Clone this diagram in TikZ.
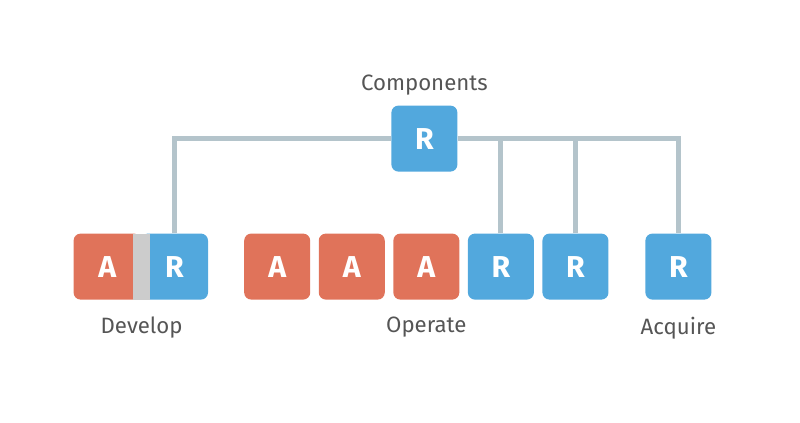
\documentclass[tikz,border=0pt]{standalone}
\usepackage{fontspec}
\setmainfont{Fira Sans}
\usepackage{tikz}
\usetikzlibrary{positioning}
\definecolor{appred}{HTML}{E0735A}
\definecolor{resblue}{HTML}{52A8DD}
\definecolor{linkgray}{HTML}{B4C4CB}
\definecolor{labelgray}{HTML}{555555}
\definecolor{gapgray}{HTML}{CCCCCC}
\tikzset{
    tile/.style={
           rectangle,
           rounded corners=5pt,
           draw=none,
           minimum width=1.65cm,
           minimum height=1.65cm,
           inner sep=0pt,
           text=white,
           font=\fontsize{21.5}{24}\selectfont\bfseries,
           text centered,
           },
    app/.style={tile, fill=appred},
    res/.style={tile, fill=resblue},
    caption/.style={text=labelgray, font=\fontsize{15.8}{18}\selectfont},
    link/.style={draw=linkgray, line width=3.5pt},
}

\begin{document}
\begin{tikzpicture}[node distance=0.2cm]
  \useasboundingbox (0,0) rectangle (20,10.575);
  \node[res]                    (comp)  at (10.61,7.11) {R};
  \node[caption, above=0.12cm of comp] (compLbl) {Components};
  % develop
  \node[app, minimum width=1.68cm] (devA) at (2.68,3.91) {A};
  \node[res, minimum width=1.68cm] (devR) at (4.36,3.91) {R};
  \node[fill=gapgray, minimum width=0.42cm, minimum height=1.65cm, inner sep=0pt]
        (devGap) at (3.54,3.91) {};
  \node[caption, below=0.3cm of devGap] (devLbl) {Develop};
  % operate
  \node[app]                    (opA1)  at (6.93,3.91) {A};
  \node[app, right=of opA1]     (opA2)  {A};
  \node[app, right=of opA2]     (opA3)  {A};
  \node[res, right=of opA3]     (opR1)  {R};
  \node[res, right=of opR1]     (opR2)  {R};
  \node[caption, below=0.3cm of opA3] (opLbl) {Operate};
  % acquire
  \node[res]                    (acqR)  at (16.96,3.91) {R};
  \node[caption, below=0.3cm of acqR] (acqLbl) {Acquire};
  % links
  \draw[link] (devR.north) |- (comp.west);
  \draw[link] (comp.east) -| (acqR.north);
  \draw[link] (opR1.north) -- (opR1.north |- comp.east);
  \draw[link] (opR2.north) -- (opR2.north |- comp.east);
\end{tikzpicture}
\end{document}
